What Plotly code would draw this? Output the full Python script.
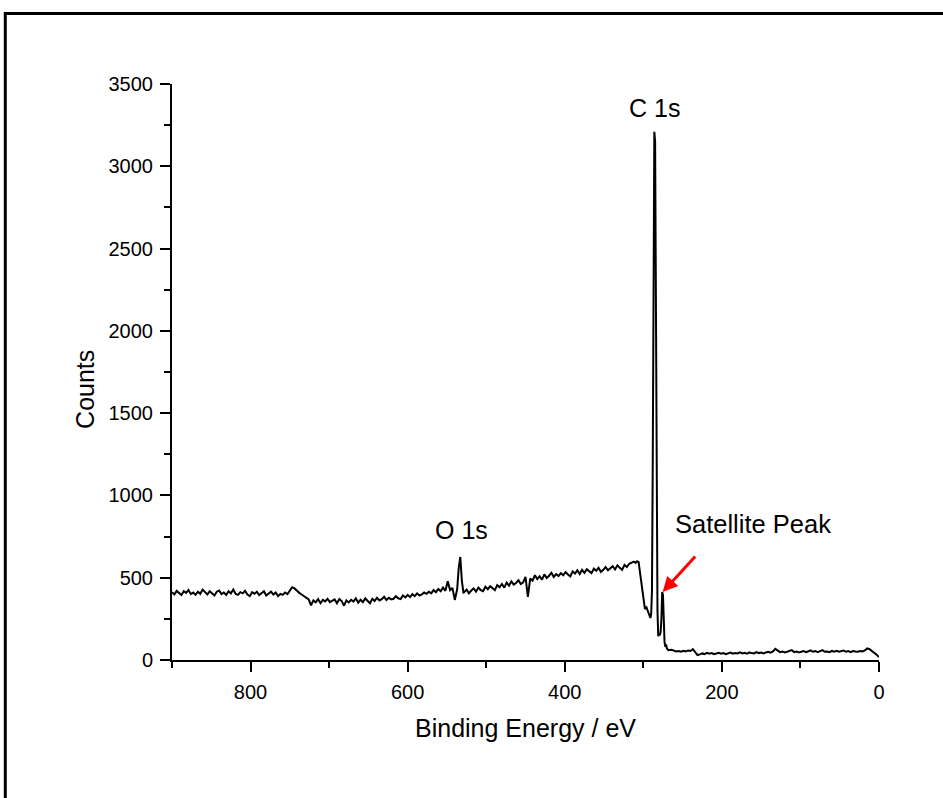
import plotly.graph_objects as go

# ---------------- data ----------------
# survey, high binding energy side (eV)
energy_hi = [
    900, 897, 894, 891, 888, 885, 882, 879, 876, 873,
    870, 867, 864, 861, 858, 855, 852, 849, 846, 843,
    840, 837, 834, 831, 828, 825, 822, 819, 816, 813,
    810, 807, 804, 801, 798, 795, 792, 789, 786, 783,
    780, 777, 774, 771, 768, 765, 762, 759, 756, 753,
    750, 747, 744, 741, 738, 735, 732, 729, 726, 723,
    720, 717, 714, 711, 708, 705, 702, 699, 696, 693,
    690, 687, 684, 681, 678, 675, 672, 669, 666, 663,
    660, 657, 654, 651, 648, 645, 642, 639, 636, 633,
    630, 627, 624, 621, 618, 615, 612, 609, 606, 603,
    600, 597, 594, 591, 588, 585, 582, 579, 576, 573,
    570, 567, 564, 561, 558, 555, 552, 549, 546, 543,
    540,
]
counts_hi = [
    412, 398, 420, 405, 395, 418, 408, 425, 400, 410,
    396, 415, 402, 428, 410, 398, 418, 405, 392, 415,
    422, 400, 410, 395, 418, 405, 428, 402, 396, 412,
    405, 420, 398, 388, 412, 402, 415, 395, 408, 418,
    392, 405, 415, 398, 410, 388, 402, 396, 410, 400,
    418, 442, 435, 420, 408, 398, 388, 375, 368, 332,
    362, 350, 370, 345, 365, 356, 372, 352, 362, 368,
    345, 370, 358, 330, 362, 350, 366, 355, 375, 348,
    366, 352, 374, 360, 345, 372, 358, 378, 362, 370,
    384, 365, 378, 368, 372, 388, 375, 370, 392, 380,
    395, 382, 400, 388, 405, 392, 398, 410, 402, 415,
    405, 425, 412, 432, 418, 440, 420, 478, 425, 438,
    365,
]

# O 1s region
energy_o1s = [537, 535, 533, 531, 529]
counts_o1s = [430, 560, 626, 480, 410]

# rising background toward C 1s
energy_mid = [
    528, 525, 522, 519, 516, 513, 510, 507, 504, 501,
    498, 495, 492, 489, 486, 483, 480, 477, 474, 471,
    468, 465, 462, 459, 456, 453, 450, 447, 444, 441,
    438, 435, 432, 429, 426, 423, 420, 417, 414, 411,
    408, 405, 402, 399, 396, 393, 390, 387, 384, 381,
    378, 375, 372, 369, 366, 363, 360, 357, 354, 351,
    348, 345, 342, 339, 336, 333, 330, 327, 324, 321,
    318, 315, 312,
]
counts_mid = [
    412, 428, 405, 422, 435, 415, 440, 425, 418, 445,
    430, 448, 438, 425, 455, 442, 462, 440, 470, 452,
    478, 458, 468, 485, 462, 472, 505, 383, 495, 482,
    515, 492, 508, 488, 520, 498, 512, 530, 505, 522,
    510, 528, 515, 535, 520, 508, 538, 525, 545, 522,
    548, 530, 552, 538, 528, 555, 542, 560, 535, 548,
    565, 545, 558, 570, 550, 575, 560, 548, 578, 565,
    585, 592, 598,
]

# C 1s and satellite region
energy_c1s = [
    310, 308, 306, 304, 302, 300, 298, 296, 294, 292,
    291, 290, 289, 288, 287, 286, 285, 284, 283, 282,
    281, 280, 279, 278, 277, 276, 275, 274, 273, 272,
    271, 270, 268,
]
counts_c1s = [
    590, 600, 595, 520, 440, 400, 310, 320, 290, 265,
    255, 280, 420, 1200, 2400, 3210, 3150, 2200, 900, 300,
    145, 160, 150, 170, 250, 413, 395, 240, 110, 80,
    95, 70, 60,
]

# low binding energy tail
energy_lo = [
    264, 261, 258, 255, 252, 249, 246, 243, 240, 237,
    234, 231, 228, 225, 222, 219, 216, 213, 210, 207,
    204, 201, 198, 195, 192, 189, 186, 183, 180, 177,
    174, 171, 168, 165, 162, 159, 156, 153, 150, 147,
    144, 141, 138, 135, 132, 129, 126, 123, 120, 117,
    114, 111, 108, 105, 102, 99, 96, 93, 90, 87,
    84, 81, 78, 75, 72, 69, 66, 63, 60, 57,
    54, 51, 48, 45, 42, 39, 36, 33, 30, 27,
    24, 21, 18, 15, 12, 9, 6, 3, 0,
]
counts_lo = [
    62, 56, 52, 55, 50, 56, 52, 58, 55, 66,
    48, 30, 34, 40, 36, 44, 38, 42, 35, 40,
    44, 38, 42, 36, 40, 45, 38, 42, 40, 46,
    40, 44, 38, 46, 42, 40, 48, 42, 45, 40,
    46, 50, 44, 52, 68, 55, 48, 52, 46, 50,
    54, 60, 48, 52, 46, 50, 55, 48, 52, 58,
    50, 54, 48, 56, 60, 50, 52, 48, 55, 50,
    56, 50, 52, 58, 50, 54, 48, 55, 52, 50,
    54, 52, 58, 70, 66, 56, 45, 32, 18,
]

x_tickvals = [800, 600, 400, 200, 0]
x_minor = [900, 700, 500, 300, 100]
y_tickvals = [0, 500, 1000, 1500, 2000, 2500, 3000, 3500]
y_minor = [250, 750, 1250, 1750, 2250, 2750, 3250]

energy = energy_hi + energy_o1s + energy_mid + energy_c1s + energy_lo
counts = counts_hi + counts_o1s + counts_mid + counts_c1s + counts_lo

FONT = "Liberation Sans, Arial, sans-serif"

fig = go.Figure()
fig.add_trace(go.Scatter(
    x=energy, y=counts, mode="lines",
    line=dict(color="black", width=2),
    showlegend=False, hoverinfo="skip",
))

axis_common = dict(
    showline=True, linewidth=2, linecolor="black",
    ticks="outside", ticklen=10, tickwidth=2, tickcolor="black",
    showgrid=False, zeroline=False,
    tickfont=dict(family=FONT, size=20, color="black"),
)

fig.update_layout(
    width=943, height=798,
    margin=dict(l=172, r=64, t=84, b=138),
    paper_bgcolor="white", plot_bgcolor="white",
    font=dict(family=FONT, color="black"),
    xaxis=dict(
        range=[900, 0], autorange=False,
        tickmode="array", tickvals=x_tickvals,
        minor=dict(tickmode="array", tickvals=x_minor, ticks="outside",
                   ticklen=6, tickwidth=2, tickcolor="black"),
        ticklabelstandoff=3,
        **axis_common,
    ),
    yaxis=dict(
        range=[0, 3500], autorange=False,
        tickmode="array", tickvals=y_tickvals,
        minor=dict(tickmode="array", tickvals=y_minor, ticks="outside",
                   ticklen=6, tickwidth=2, tickcolor="black"),
        ticklabelstandoff=3,
        **axis_common,
    ),
    shapes=[dict(
        type="rect", xref="paper", yref="paper",
        x0=-0.2358, x1=1.2, y0=-0.4, y1=1.1224,
        line=dict(color="black", width=3), fillcolor="rgba(0,0,0,0)",
    )],
)

ann_font = dict(family=FONT, size=25, color="black")
fig.add_annotation(x=-0.123, y=0.469, xref="paper", yref="paper",
                   text="Counts", textangle=-90, showarrow=False,
                   font=ann_font, xanchor="center", yanchor="middle")
fig.add_annotation(x=0.4993, y=-0.118, xref="paper", yref="paper",
                   text="Binding Energy / eV", showarrow=False,
                   font=ann_font, xanchor="center", yanchor="middle")
fig.add_annotation(x=286, y=3354, text="C 1s", showarrow=False,
                   font=ann_font, xanchor="center", yanchor="middle")
fig.add_annotation(x=531, y=790, text="O 1s", showarrow=False,
                   font=ann_font, xanchor="center", yanchor="middle")
fig.add_annotation(x=160, y=826, text="Satellite Peak", showarrow=False,
                   font=dict(family=FONT, size=25.5, color="black"),
                   xanchor="center", yanchor="middle")
fig.add_annotation(x=275.5, y=413, text="", showarrow=True,
                   ax=34, ay=-37, axref="pixel", ayref="pixel",
                   arrowcolor="red", arrowwidth=3, arrowhead=2, arrowsize=1,
                   standoff=0)

fig.write_html("out.html")
